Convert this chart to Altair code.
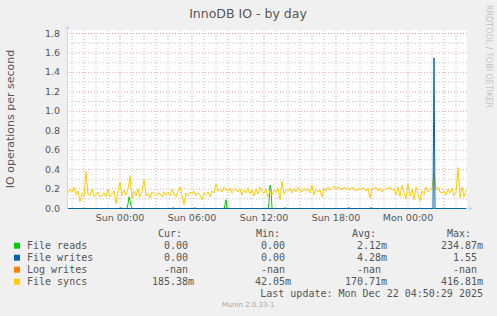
import altair as alt
import pandas as pd

# ---------------- texts ----------------
title_text = "InnoDB IO - by day"
y_title = "IO operations per second"
watermark = "RRDTOOL / TOBI OETIKER"
version_text = "Munin 2.0.33-1"
last_update = "Last update: Mon Dec 22 04:50:29 2025"

# ---------------- legend table ----------------
series_names = ["File reads", "File writes", "Log writes", "File syncs"]
series_colors = ["#00CC00", "#0066B3", "#FF8000", "#FFCC00"]
col_headers = ["Cur:", "Min:", "Avg:", "Max:"]
cur_vals = ["0.00", "0.00", "-nan", "185.38m"]
min_vals = ["0.00", "0.00", "-nan", "42.05m"]
avg_vals = ["2.12m", "4.28m", "-nan", "170.71m"]
max_vals = ["234.87m", "1.55", "-nan", "416.81m"]

# ---------------- series ----------------
# File syncs: 10-minute samples from Sat 19:40 to Mon 04:50
syncs_start = "2025-12-20 19:40"
syncs_values = [
    0.16, 0.20,
    0.17, 0.22, 0.14, 0.18, 0.07, 0.16,
    0.12, 0.38, 0.15, 0.13, 0.20, 0.12,
    0.14, 0.17, 0.12, 0.13, 0.16, 0.12,
    0.20, 0.12, 0.15, 0.18, 0.05, 0.17,
    0.27, 0.13, 0.19, 0.14, 0.20, 0.34,
    0.10, 0.18, 0.13, 0.20, 0.12, 0.17,
    0.30, 0.13, 0.16, 0.11, 0.17, 0.15,
    0.13, 0.16, 0.15, 0.12, 0.17, 0.14,
    0.17, 0.13, 0.20, 0.15, 0.12, 0.18,
    0.22, 0.14, 0.04, 0.16, 0.13, 0.17,
    0.15, 0.18, 0.13, 0.16, 0.14, 0.09,
    0.16, 0.14, 0.17, 0.12, 0.18, 0.16,
    0.25, 0.18, 0.20, 0.17, 0.22, 0.19,
    0.18, 0.21, 0.16, 0.19, 0.20, 0.17,
    0.20, 0.14, 0.19, 0.16, 0.21, 0.15,
    0.19, 0.13, 0.20, 0.15, 0.22, 0.17,
    0.16, 0.20, 0.12, 0.18, 0.14, 0.19,
    0.17, 0.21, 0.09, 0.28, 0.15, 0.19,
    0.18, 0.21, 0.16, 0.20, 0.17, 0.22,
    0.19, 0.17, 0.21, 0.18, 0.20, 0.16,
    0.24, 0.14, 0.20, 0.17, 0.19, 0.12,
    0.21, 0.18, 0.22, 0.19, 0.21, 0.23,
    0.20, 0.22, 0.21, 0.19, 0.22, 0.20,
    0.21, 0.19, 0.22, 0.20, 0.18, 0.21,
    0.19, 0.21, 0.20, 0.18, 0.21, 0.11,
    0.21, 0.20, 0.22, 0.18, 0.21, 0.17,
    0.19, 0.21, 0.20, 0.22, 0.19, 0.20,
    0.14, 0.22, 0.12, 0.24, 0.16, 0.10,
    0.25, 0.13, 0.20, 0.09, 0.22, 0.15,
    0.08, 0.18, 0.14, 0.22, 0.17, 0.20,
    0.20, 0.37, 0.19, 0.22, 0.17, 0.16,
    0.18, 0.14, 0.20, 0.16, 0.21, 0.13,
    0.17, 0.42, 0.11, 0.22, 0.12, 0.19,
]

reads_times = [
    "2025-12-20 19:40",
    "2025-12-21 00:00", "2025-12-21 00:05", "2025-12-21 00:10",
    "2025-12-21 00:35", "2025-12-21 00:40", "2025-12-21 00:45", "2025-12-21 00:50", "2025-12-21 00:55", "2025-12-21 01:00",
    "2025-12-21 04:20", "2025-12-21 04:25", "2025-12-21 04:30",
    "2025-12-21 06:10", "2025-12-21 06:15", "2025-12-21 06:20",
    "2025-12-21 08:40", "2025-12-21 08:45", "2025-12-21 08:50", "2025-12-21 08:55",
    "2025-12-21 12:20", "2025-12-21 12:25", "2025-12-21 12:30", "2025-12-21 12:35", "2025-12-21 12:40",
    "2025-12-21 13:40", "2025-12-21 13:45", "2025-12-21 13:50",
    "2025-12-21 19:00", "2025-12-21 19:05", "2025-12-21 19:10",
    "2025-12-21 20:50", "2025-12-21 20:55", "2025-12-21 21:00",
    "2025-12-22 04:50",
]
reads_values = [
    0.0,
    0.0, 0.01, 0.0,
    0.0, 0.05, 0.12, 0.08, 0.03, 0.0,
    0.0, 0.01, 0.0,
    0.0, 0.01, 0.0,
    0.0, 0.04, 0.09, 0.0,
    0.0, 0.06, 0.24, 0.20, 0.0,
    0.0, 0.01, 0.0,
    0.0, 0.01, 0.0,
    0.0, 0.01, 0.0,
    0.0,
]

writes_times = ["2025-12-20 19:40", "2025-12-22 02:05", "2025-12-22 02:10", "2025-12-22 02:15", "2025-12-22 04:50"]
writes_values = [0.0, 0.0, 1.55, 0.0, 0.0]

x_ticks = ["2025-12-21 00:00", "2025-12-21 06:00", "2025-12-21 12:00", "2025-12-21 18:00", "2025-12-22 00:00"]
x_tick_labels = ["Sun 00:00", "Sun 06:00", "Sun 12:00", "Sun 18:00", "Mon 00:00"]
x_domain = ["2025-12-20 19:35", "2025-12-22 04:55"]
y_ticks = [0.0, 0.2, 0.4, 0.6, 0.8, 1.0, 1.2, 1.4, 1.6, 1.8]
y_tick_labels = ["0.0", "0.2", "0.4", "0.6", "0.8", "1.0", "1.2", "1.4", "1.6", "1.8"]
y_minor = [0.1, 0.3, 0.5, 0.7, 0.9, 1.1, 1.3, 1.5, 1.7]
y_major = [0.2, 0.4, 0.6, 0.8, 1.0, 1.2, 1.4, 1.6, 1.8]
y_domain = [0.0, 1.8]


def dt(s):
    ts = pd.Timestamp(s)
    return alt.DateTime(year=ts.year, month=ts.month, date=ts.day,
                        hours=ts.hour, minutes=ts.minute)


FONT = "DejaVu Sans"
MONO = "DejaVu Sans Mono"
TXT = "#555555"
AXIS_C = "#CFD6F8"
GRID_C = "#C4C4C4"
MGRID_C = "#EBA3A3"

xs = alt.Scale(domain=[dt(x_domain[0]), dt(x_domain[1])], nice=False)
# 0 sits on the pixel row of the x axis, 1.8 a few pixels below the top
ys = alt.Scale(domain=y_domain, range=[178.5, 3.5], nice=False, zero=False)

syncs_df = pd.DataFrame({"t": pd.date_range(syncs_start, periods=len(syncs_values), freq="10min"),
                         "v": syncs_values})
reads_df = pd.DataFrame({"t": pd.to_datetime(reads_times), "v": reads_values})
writes_df = pd.DataFrame({"t": pd.to_datetime(writes_times), "v": writes_values})

hours = pd.date_range("2025-12-20 20:00", "2025-12-22 04:00", freq="h")
vmin_df = pd.DataFrame({"t": [h for h in hours if h.hour % 3 != 0]})
vmaj_df = pd.DataFrame({"t": [h for h in hours if h.hour % 3 == 0]})
hmin_df = pd.DataFrame({"v": y_minor})
hmaj_df = pd.DataFrame({"v": y_major})
xlab_df = pd.DataFrame({"t": pd.to_datetime(x_ticks), "label": x_tick_labels})
ylab_df = pd.DataFrame({"v": y_ticks, "label": y_tick_labels})

XE = alt.X("t:T", scale=xs, axis=None)
YE = alt.Y("v:Q", scale=ys, axis=None)

vgrid_min = alt.Chart(vmin_df).mark_rule(color=GRID_C, strokeDash=[1, 2], strokeWidth=1).encode(
    x=XE, y=alt.value(0), y2=alt.value(178))
vgrid_maj = alt.Chart(vmaj_df).mark_rule(color=MGRID_C, strokeDash=[1, 2], strokeWidth=1).encode(
    x=XE, y=alt.value(0), y2=alt.value(178))
hgrid_min = alt.Chart(hmin_df).mark_rule(color=GRID_C, strokeDash=[1, 2], strokeWidth=1).encode(
    y=YE, x=alt.value(0), x2=alt.value(400))
hgrid_maj = alt.Chart(hmaj_df).mark_rule(color=MGRID_C, strokeDash=[1, 2], strokeWidth=1).encode(
    y=YE, x=alt.value(0), x2=alt.value(400))

x_labels = alt.Chart(xlab_df).mark_text(align="center", baseline="middle", font=FONT, fontSize=9.5,
                                        color=TXT).encode(x=XE, y=alt.value(187.5), text="label:N")
y_labels = alt.Chart(ylab_df).mark_text(align="right", baseline="middle", font=FONT, fontSize=9.5,
                                        color=TXT).encode(x=alt.value(-7), y=YE, text="label:N")

one = pd.DataFrame({"a": [0]})
axis_x = alt.Chart(one).mark_rule(color=AXIS_C, strokeWidth=1).encode(
    x=alt.value(0), x2=alt.value(403), y=alt.value(178.5))
axis_y = alt.Chart(one).mark_rule(color=AXIS_C, strokeWidth=1).encode(
    x=alt.value(0.5), y=alt.value(-2), y2=alt.value(178.5))
arrow_x = alt.Chart(one).mark_point(shape="triangle-right", filled=True, size=22, color=AXIS_C, opacity=1).encode(
    x=alt.value(404), y=alt.value(178.5))
arrow_y = alt.Chart(one).mark_point(shape="triangle-up", filled=True, size=22, color=AXIS_C, opacity=1).encode(
    x=alt.value(0.5), y=alt.value(-3))


def series_line(df, color):
    return alt.Chart(df).mark_line(color=color, strokeWidth=1, strokeJoin="round").encode(x=XE, y=YE)


reads_line = series_line(reads_df, series_colors[0])
writes_line = series_line(writes_df, series_colors[1])
syncs_line = series_line(syncs_df, series_colors[3])


def text_item(s, px, py, align, font=MONO, size=10, color=TXT, angle=None):
    mk = dict(align=align, baseline="middle", font=font, fontSize=size, color=color)
    if angle is not None:
        mk["angle"] = angle
    return alt.Chart(pd.DataFrame({"text": [s]})).mark_text(**mk).encode(
        x=alt.value(px), y=alt.value(py), text="text:N")


# ---------------- legend (pixel layout, view coordinates) ----------------
ROW0 = 215.7
ROW_H = 12
num_right = [121, 218, 314, 410]
head_left = [91, 189, 285, 380]

legend_layers = []
for i, name in enumerate(series_names):
    py = ROW0 + ROW_H * i
    legend_layers.append(alt.Chart(one).mark_square(size=36, color=series_colors[i], opacity=1).encode(
        x=alt.value(-50), y=alt.value(py)))
    legend_layers.append(text_item(name, -40, py, "left"))
    for c, vals in enumerate([cur_vals, min_vals, avg_vals, max_vals]):
        s = vals[i]
        if s.endswith("m"):
            legend_layers.append(text_item(s[:-1], num_right[c], py, "right"))
            legend_layers.append(text_item("m", num_right[c], py, "left"))
        else:
            legend_layers.append(text_item(s, num_right[c], py, "right"))
for c, h in enumerate(col_headers):
    legend_layers.append(text_item(h, head_left[c], 204, "left"))
legend_layers.append(text_item(last_update, 416, 264.3, "right"))

title_mark = text_item(title_text, 181, -16, "center", font=FONT, size=12.5)
ytitle_mark = text_item(y_title, -56, 89, "center", font=FONT, size=11, angle=270)
wm_mark = text_item(watermark, 421, 26.5, "center", font=FONT, size=8, color="#C4C4C4", angle=90)
ver_mark = text_item(version_text, 181, 275, "center", font=FONT, size=7, color="#AAAAAA")

chart = alt.layer(
    vgrid_min, hgrid_min, vgrid_maj, hgrid_maj,
    axis_x, axis_y, arrow_x, arrow_y,
    reads_line, syncs_line, writes_line,
    x_labels, y_labels,
    *legend_layers, title_mark, ytitle_mark, wm_mark, ver_mark,
).properties(
    width=400, height=178,
    padding={"left": 67, "top": 30, "right": 30, "bottom": 108},
    autosize=alt.AutoSizeParams(type="none"),
    background="#F0F0F0",
).configure_view(stroke=None, fill="white")

chart.save("out.html", embed_options={"renderer": "svg", "actions": False})
